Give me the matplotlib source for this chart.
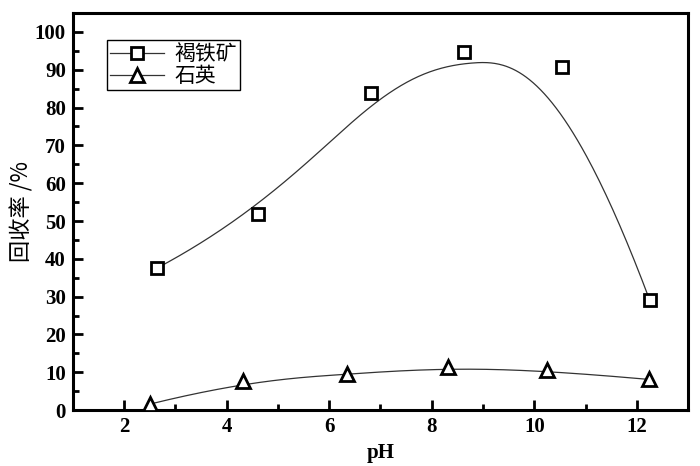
import numpy as np
import matplotlib
matplotlib.use("Agg")
import matplotlib.pyplot as plt
from matplotlib.lines import Line2D
from matplotlib.ticker import MultipleLocator

# data
ph_limonite = [2.65, 4.62, 6.82, 8.63, 10.55, 12.25]
rec_limonite = [37.6, 51.8, 83.8, 94.6, 90.6, 29.1]
ph_quartz = [2.51, 4.31, 6.35, 8.31, 10.24, 12.24]
rec_quartz = [1.6, 7.6, 9.5, 11.3, 10.5, 8.1]
labels = ["褐铁矿", "石英"]

SERIF = "Liberation Serif"
CJK = ["Noto Sans CJK SC", "DejaVu Sans"]


def _basis(i, k, t, u):
    if k == 0:
        return ((t[i] <= u) & (u < t[i + 1])).astype(float)
    out = np.zeros_like(u)
    if t[i + k] != t[i]:
        out += (u - t[i]) / (t[i + k] - t[i]) * _basis(i, k - 1, t, u)
    if t[i + k + 1] != t[i + 1]:
        out += (t[i + k + 1] - u) / (t[i + k + 1] - t[i + 1]) * _basis(i + 1, k - 1, t, u)
    return out


def bspline(xs, ys, k=3, num=400):
    """Clamped uniform B-spline with the data points as control points."""
    n = len(xs)
    t = np.concatenate([np.zeros(k), np.linspace(0, 1, n - k + 1), np.ones(k)])
    u = np.linspace(0, 1 - 1e-9, num)
    B = np.array([_basis(i, k, t, u) for i in range(n)])
    return B.T @ np.asarray(xs), B.T @ np.asarray(ys)


fig = plt.figure(figsize=(7, 4.66), dpi=100)
ax = fig.add_axes([0.104, 0.12, 0.879, 0.852])

line_kw = dict(color="#333333", lw=0.9)
mk_kw = dict(ls="none", mfc="white", mec="black", mew=2.0, ms=8, zorder=3)

cx, cy = bspline(ph_limonite, rec_limonite)
ax.plot(cx, cy, **line_kw)
ax.plot(ph_limonite, rec_limonite, marker="s", **mk_kw)
cx, cy = bspline(ph_quartz, rec_quartz)
ax.plot(cx, cy, **line_kw)
ax.plot(ph_quartz, rec_quartz, marker="^", **dict(mk_kw, ms=10))

ax.set_xlim(1, 13)
ax.set_ylim(0, 105)
ax.xaxis.set_major_locator(MultipleLocator(2))
ax.xaxis.set_minor_locator(MultipleLocator(1))
ax.yaxis.set_major_locator(MultipleLocator(10))
ax.yaxis.set_minor_locator(MultipleLocator(5))
ax.tick_params(which="both", direction="in", top=False, right=False, width=2)
ax.tick_params(which="major", length=7, labelsize=15, pad=5)
ax.tick_params(which="minor", length=4)
for s in ax.spines.values():
    s.set_linewidth(2.2)
for lab in ax.get_xticklabels() + ax.get_yticklabels():
    lab.set_fontfamily(SERIF)
    lab.set_fontweight("bold")

ax.set_xlabel("pH", fontsize=15, fontweight="bold", family=SERIF, labelpad=4)
ax.set_ylabel("回收率 /%", fontsize=16, family=CJK, labelpad=1)

handles = [
    Line2D([], [], marker="s", **dict(line_kw), mfc="white", mec="black", mew=2.0, ms=8),
    Line2D([], [], marker="^", **dict(line_kw), mfc="white", mec="black", mew=2.0, ms=10),
]
leg = ax.legend(handles, labels, loc="upper left", bbox_to_anchor=(0.055, 0.932),
                borderaxespad=0, numpoints=1, handlelength=2.6, handletextpad=0.5,
                borderpad=0.15, labelspacing=0.0, fancybox=False, framealpha=1,
                prop={"family": CJK, "size": 15})
leg.get_frame().set_edgecolor("black")
leg.get_frame().set_linewidth(1.0)

fig.savefig("out.png", dpi=100)
